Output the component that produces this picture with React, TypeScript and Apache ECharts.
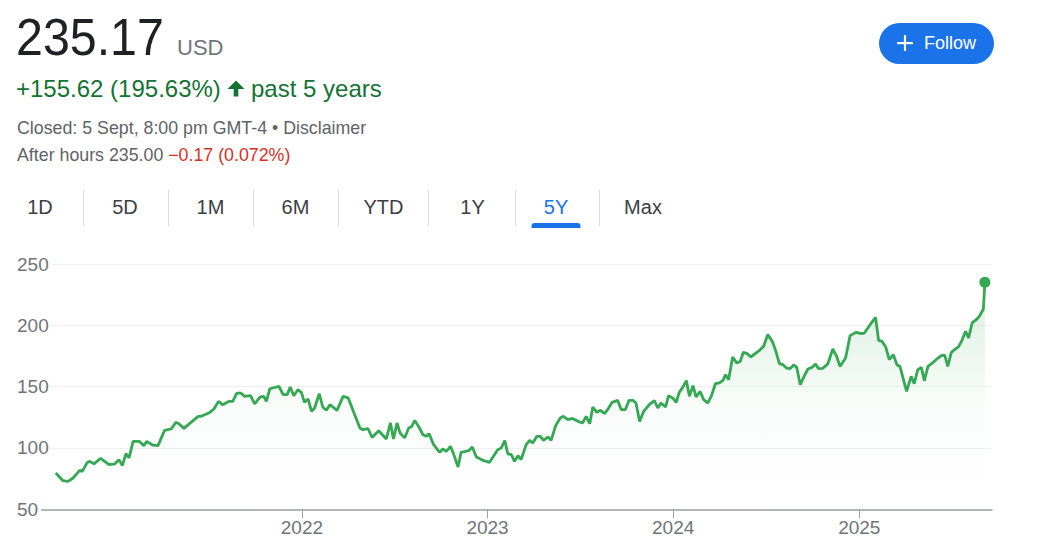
import React, { useEffect, useRef } from "react";
import * as echarts from "echarts";

// ---------- data ----------
const dates: string[] = [
  "2020-09-04","2020-09-18","2020-09-28","2020-10-08","2020-10-21","2020-10-26","2020-11-05","2020-11-10","2020-11-18","2020-12-01","2020-12-18","2020-12-29",
  "2021-01-06","2021-01-13","2021-01-20","2021-01-26","2021-02-03","2021-02-15","2021-02-24","2021-03-02","2021-03-13","2021-03-24",
  "2021-04-06","2021-04-19","2021-04-28","2021-05-04","2021-05-14","2021-05-25","2021-06-11","2021-06-17","2021-07-04","2021-07-12",
  "2021-07-21","2021-07-29","2021-08-11","2021-08-18","2021-08-26","2021-09-03","2021-09-10","2021-09-22","2021-09-30","2021-10-11",
  "2021-10-18","2021-10-23","2021-10-30","2021-11-17","2021-11-25","2021-12-03","2021-12-09","2021-12-16","2021-12-24","2021-12-31",
  "2022-01-06","2022-01-13","2022-01-20","2022-01-26","2022-02-04","2022-02-11","2022-02-18","2022-02-25","2022-03-11","2022-03-23",
  "2022-04-02","2022-04-25","2022-05-01","2022-05-11","2022-05-19","2022-06-01","2022-06-16","2022-06-24","2022-06-30","2022-07-07",
  "2022-07-13","2022-07-22","2022-07-30","2022-08-05","2022-08-11","2022-08-19","2022-08-27","2022-09-03","2022-09-08","2022-09-17",
  "2022-09-29","2022-10-05","2022-10-12","2022-10-20","2022-10-26","2022-11-04","2022-11-10","2022-11-25","2022-12-02","2022-12-10",
  "2022-12-23",
  "2023-01-05","2023-01-21","2023-01-28","2023-02-04","2023-02-10","2023-02-17","2023-02-23","2023-03-02","2023-03-08","2023-03-18",
  "2023-03-25","2023-03-31","2023-04-08","2023-04-15","2023-04-21","2023-04-30","2023-05-06","2023-05-15","2023-05-24","2023-05-30",
  "2023-06-08","2023-06-17","2023-06-28","2023-07-07","2023-07-14","2023-07-21","2023-07-27","2023-08-04","2023-08-11","2023-08-19",
  "2023-08-26","2023-09-03","2023-09-14","2023-09-21","2023-09-29","2023-10-06","2023-10-14","2023-10-20","2023-10-27","2023-11-04",
  "2023-11-15","2023-11-25","2023-12-02","2023-12-08","2023-12-17","2023-12-23","2023-12-31",
  "2024-01-07","2024-01-13","2024-01-21","2024-01-27","2024-02-02","2024-02-09","2024-02-15","2024-02-23","2024-03-01","2024-03-09",
  "2024-03-16","2024-03-24","2024-04-01","2024-04-08","2024-04-13","2024-04-19","2024-04-27","2024-05-05","2024-05-12","2024-05-18",
  "2024-05-26","2024-06-02","2024-06-12","2024-06-19","2024-06-27","2024-07-05","2024-07-14","2024-07-20","2024-07-28","2024-08-04",
  "2024-08-11","2024-08-18","2024-08-25","2024-08-31","2024-09-07","2024-09-15","2024-09-22","2024-09-30","2024-10-07","2024-10-13",
  "2024-10-21","2024-10-31","2024-11-10","2024-11-18","2024-11-24","2024-12-05","2024-12-14","2024-12-26",
  "2025-01-05","2025-01-11","2025-01-21","2025-02-02","2025-02-08","2025-02-15","2025-02-22","2025-03-01","2025-03-09","2025-03-16",
  "2025-03-22","2025-04-04","2025-04-13","2025-04-19","2025-04-26","2025-05-03","2025-05-09","2025-05-16","2025-05-25","2025-06-01",
  "2025-06-11","2025-06-18","2025-06-24","2025-07-01","2025-07-09","2025-07-15","2025-07-22","2025-07-29","2025-08-04","2025-08-11",
  "2025-08-19","2025-08-25","2025-09-02","2025-09-05",
];

const prices: number[] = [
  79.55, 73.3, 72.8, 75.5, 81.7, 80.9, 88.3, 89.1, 87.0, 91.5, 86.4, 87.0,
  90.5, 85.8, 95.4, 91.8, 105.4, 105.4, 101.9, 105.4, 102.4, 101.9,
  114.4, 115.5, 120.9, 119.8, 116.0, 119.8, 125.8, 125.8, 129.0, 131.8,
  138.0, 135.3, 138.0, 138.0, 144.8, 144.8, 142.1, 142.6, 135.9, 141.6,
  142.1, 138.0, 148.3, 150.2, 143.5, 143.5, 149.7, 142.6, 147.5, 145.3,
  137.2, 140.0, 129.8, 132.6, 144.3, 133.4, 130.7, 135.3, 130.7, 142.1,
  140.8, 116.3, 114.9, 115.7, 108.6, 114.1, 107.3, 120.4, 107.3, 120.4,
  112.2, 108.2, 116.3, 117.6, 122.5, 117.1, 110.8, 109.5, 111.7, 102.7,
  96.4, 99.2, 97.2, 101.3, 95.4, 84.5, 96.4, 97.8, 100.8, 92.7,
  89.9,
  88.3, 98.6, 100.0, 106.0, 95.1, 94.5, 89.1, 93.7, 90.5, 102.7,
  106.2, 104.1, 109.5, 109.5, 106.2, 109.0, 106.2, 118.2, 124.5, 125.8,
  123.1, 124.1, 121.7, 120.4, 125.8, 119.8, 133.4, 129.0, 130.7, 128.0,
  131.8, 137.2, 138.8, 131.2, 131.2, 138.8, 138.8, 136.7, 121.7, 129.8,
  135.3, 138.6, 132.6, 136.7, 133.4, 142.6, 140.8,
  137.2, 145.3, 150.2, 154.9, 142.1, 150.8, 141.6, 146.1, 139.4, 136.7,
  142.1, 152.4, 153.0, 155.1, 159.8, 155.7, 174.2, 169.3, 170.6, 178.0,
  176.9, 174.2, 177.5, 179.6, 182.9, 192.4, 186.9, 180.1, 168.7, 167.9,
  165.2, 164.7, 167.7, 165.7, 151.6, 158.9, 164.4, 165.7, 168.5, 164.7,
  164.9, 168.5, 180.7, 174.2, 166.5, 173.4, 191.6, 194.3,
  193.2, 193.7, 199.7, 206.5, 187.8, 186.9, 182.4, 172.0, 176.1, 167.9,
  166.5, 146.1, 158.4, 152.4, 163.8, 165.7, 154.9, 166.5, 169.3, 172.0,
  175.3, 175.8, 166.5, 178.0, 180.7, 182.4, 187.8, 195.2, 189.7, 202.0,
  204.6, 207.3, 213.3, 235.17,
];

const yTicks: number[] = [50, 100, 150, 200, 250];
const yearTicks: string[] = ["2022-01-01", "2023-01-01", "2024-01-01", "2025-01-01"];
const axisRange: string[] = ["2020-08-01", "2025-09-19"];
const tabs: string[] = ["1D", "5D", "1M", "6M", "YTD", "1Y", "5Y", "Max"];
const activeTab = "5Y";

const priceText = "235.17";
const currencyText = "USD";
const changeText = "+155.62 (195.63%)";
const periodText = "past 5 years";
const closedText = "Closed: 5 Sept, 8:00 pm GMT-4 \u2022 Disclaimer";
const afterHoursText = "After hours 235.00";
const afterHoursChange = "\u22120.17 (0.072%)";
const followText = "Follow";

// ---------- layout ----------
const FONT = '"Liberation Sans", Arial, sans-serif';
const tabCenters = [40, 125, 210.5, 295.5, 383.5, 472.5, 556, 643];
const tabSeparators = [83, 168, 253, 338, 428, 515, 599];

const ts = (s: string) => echarts.time.parse(s).getTime();

export default function App() {
  const ref = useRef<HTMLDivElement>(null);

  useEffect(() => {
    if (!ref.current) return;
    const chart = echarts.init(ref.current, undefined, { renderer: "svg" });

    const lineData = dates.map((d, i) => [ts(d), prices[i]]);
    const last = lineData[lineData.length - 1];
    const yearValues = yearTicks.map(ts);

    const graphics: any[] = [];
    graphics.push({
      type: "text", x: 16, y: 37, scaleX: 0.93,
      style: { text: priceText, font: `52px ${FONT}`, fill: "#202124", textVerticalAlign: "middle" },
    });
    graphics.push({
      type: "text", x: 177, y: 47,
      style: { text: currencyText, font: `22px ${FONT}`, fill: "#70757a", textVerticalAlign: "middle" },
    });
    graphics.push({
      type: "text", x: 16, y: 88,
      style: { text: changeText, font: `24px ${FONT}`, fill: "#137333", textVerticalAlign: "middle" },
    });
    graphics.push({
      type: "polygon",
      shape: { points: [[227.5, 89], [236, 80.5], [244.5, 89], [238.3, 89], [238.3, 96.5], [233.7, 96.5], [233.7, 89]] },
      style: { fill: "#137333" },
    });
    graphics.push({
      type: "text", x: 251, y: 88,
      style: { text: periodText, font: `24px ${FONT}`, fill: "#137333", textVerticalAlign: "middle" },
    });
    graphics.push({
      type: "text", x: 17, y: 128,
      style: { text: closedText, font: `17.8px ${FONT}`, fill: "#5f6368", textVerticalAlign: "middle" },
    });
    graphics.push({
      type: "text", x: 17, y: 155,
      style: {
        text: `{g|${afterHoursText} }{r|${afterHoursChange}}`,
        font: `17.8px ${FONT}`,
        textVerticalAlign: "middle",
        rich: {
          g: { fill: "#5f6368", font: `17.8px ${FONT}` },
          r: { fill: "#d93025", font: `17.8px ${FONT}` },
        },
      },
    });
    graphics.push({
      type: "rect", shape: { x: 879, y: 23, width: 115, height: 41, r: 20.5 }, style: { fill: "#1a73e8" },
    });
    graphics.push({ type: "rect", shape: { x: 897, y: 42, width: 16, height: 2.2 }, style: { fill: "#ffffff" } });
    graphics.push({ type: "rect", shape: { x: 903.9, y: 35, width: 2.2, height: 16 }, style: { fill: "#ffffff" } });
    graphics.push({
      type: "text", x: 924, y: 43,
      style: { text: followText, font: `18px ${FONT}`, fill: "#ffffff", textVerticalAlign: "middle" },
    });
    tabs.forEach((t, i) => {
      graphics.push({
        type: "text", x: tabCenters[i], y: 207,
        style: {
          text: t, font: `20px ${FONT}`,
          fill: t === activeTab ? "#1a73e8" : "#3c4043",
          textAlign: "center", textVerticalAlign: "middle",
        },
      });
    });
    tabSeparators.forEach((x) => {
      graphics.push({ type: "rect", shape: { x, y: 190, width: 1, height: 36 }, style: { fill: "#dadce0" } });
    });
    const ai = tabs.indexOf(activeTab);
    graphics.push({
      type: "rect", shape: { x: tabCenters[ai] - 24.5, y: 223, width: 49, height: 5, r: [3, 3, 0, 0] },
      style: { fill: "#1a73e8" },
    });

    chart.setOption({
      animation: false,
      backgroundColor: "#ffffff",
      grid: { left: 38.5, right: 46, top: 264, bottom: 49.7, containLabel: false },
      xAxis: {
        type: "value",
        min: ts(axisRange[0]),
        max: ts(axisRange[1]),
        axisLine: { show: true, lineStyle: { color: "#9aa0a6", width: 1.5 } },
        axisTick: { show: true, customValues: yearValues, length: 9, lineStyle: { color: "#9aa0a6", width: 1 } },
        axisLabel: {
          customValues: yearValues,
          formatter: (v: number) => String(new Date(v).getFullYear()),
          color: "#70757a",
          fontSize: 19,
          fontFamily: FONT,
          margin: 9,
        },
        splitLine: { show: false },
      },
      yAxis: {
        type: "value",
        min: yTicks[0],
        max: yTicks[yTicks.length - 1],
        interval: 50,
        axisLine: { show: false },
        axisTick: { show: false },
        axisLabel: {
          align: "left",
          margin: 21.5,
          color: "#70757a",
          fontSize: 19,
          fontFamily: FONT,
          backgroundColor: "#ffffff",
          padding: [0, 3, 0, 0],
        },
        splitLine: { show: true, lineStyle: { color: "#efefef", width: 1 } },
      },
      series: [
        {
          type: "line",
          data: lineData,
          symbol: "none",
          lineStyle: { color: "#34a853", width: 2.8 },
          areaStyle: {
            color: new echarts.graphic.LinearGradient(0, 0, 0, 1, [
              { offset: 0, color: "rgba(52,168,83,0.26)" },
              { offset: 0.55, color: "rgba(52,168,83,0.04)" },
              { offset: 1, color: "rgba(52,168,83,0)" },
            ]),
          },
          z: 3,
        },
        {
          type: "scatter",
          data: [last],
          symbol: "circle",
          symbolSize: 11,
          itemStyle: { color: "#34a853", opacity: 1 },
          z: 4,
        },
      ],
      graphic: graphics,
    });

    return () => chart.dispose();
  }, []);

  return (
    <div
      ref={ref}
      style={{ position: "fixed", left: 0, top: 0, width: 1038, height: 559, background: "#ffffff" }}
    />
  );
}
